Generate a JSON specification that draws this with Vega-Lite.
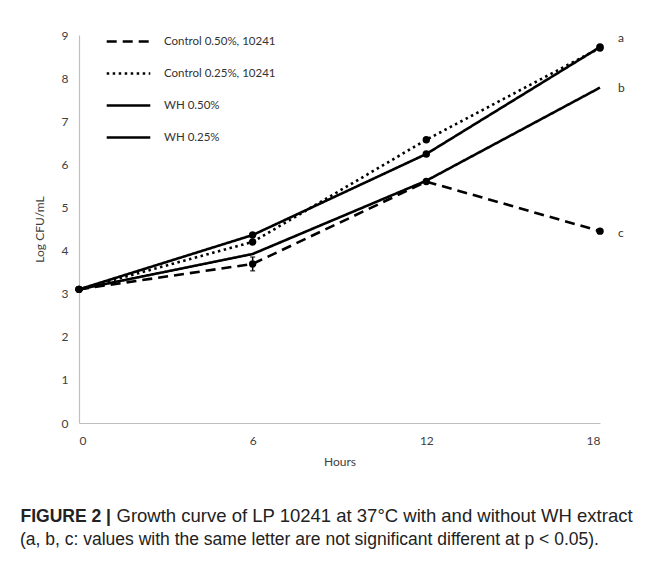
{
  "$schema": "https://vega.github.io/schema/vega-lite/v6.json",
  "width": 521,
  "height": 388,
  "autosize": {"type": "none"},
  "padding": {"left": 79, "top": 35, "right": 57, "bottom": 148},
  "background": "white",
  "config": {"view": {"stroke": null}, "font": "Lato"},
  "datasets": {
    "growth": [
      {"series": "Control 0.50%, 10241", "hour": 0, "logcfu": 3.1},
      {"series": "Control 0.50%, 10241", "hour": 6, "logcfu": 3.69},
      {"series": "Control 0.50%, 10241", "hour": 12, "logcfu": 5.6},
      {"series": "Control 0.50%, 10241", "hour": 18, "logcfu": 4.45},
      {"series": "Control 0.25%, 10241", "hour": 0, "logcfu": 3.1},
      {"series": "Control 0.25%, 10241", "hour": 6, "logcfu": 4.2},
      {"series": "Control 0.25%, 10241", "hour": 12, "logcfu": 6.57},
      {"series": "Control 0.25%, 10241", "hour": 18, "logcfu": 8.7},
      {"series": "WH 0.50%", "hour": 0, "logcfu": 3.1},
      {"series": "WH 0.50%", "hour": 6, "logcfu": 3.92},
      {"series": "WH 0.50%", "hour": 12, "logcfu": 5.62},
      {"series": "WH 0.50%", "hour": 18, "logcfu": 7.78},
      {"series": "WH 0.25%", "hour": 0, "logcfu": 3.1},
      {"series": "WH 0.25%", "hour": 6, "logcfu": 4.36},
      {"series": "WH 0.25%", "hour": 12, "logcfu": 6.24},
      {"series": "WH 0.25%", "hour": 18, "logcfu": 8.72}
    ],
    "errors": [
      {"series": "Control 0.50%, 10241", "hour": 6, "lo": 3.53, "hi": 3.85}
    ],
    "letters": [
      {"hour": 18, "logcfu": 8.93, "letter": "a"},
      {"hour": 18, "logcfu": 7.77, "letter": "b"},
      {"hour": 18, "logcfu": 4.4, "letter": "c"}
    ]
  },
  "title": {
    "text": "(a, b, c: values with the same letter are not significant different at p < 0.05).",
    "orient": "bottom",
    "anchor": "start",
    "frame": "group",
    "dx": -59,
    "offset": 6,
    "font": "Liberation Sans",
    "fontSize": 17.5,
    "fontWeight": "normal",
    "color": "#222",
    "baseline": "top"
  },
  "layer": [
    {
      "layer": [
        {
          "data": {"name": "growth"},
          "mark": {"type": "line", "color": "black", "strokeWidth": 2.6},
          "encoding": {
            "x": {
              "field": "hour", "type": "quantitative",
              "scale": {"domain": [0, 18], "nice": false},
              "axis": {
                "values": [0, 6, 12, 18], "grid": false, "ticks": false,
                "domainColor": "#bfbfbf", "domainWidth": 1.2,
                "labelColor": "#404040", "labelFontSize": 12, "labelPadding": 12,
                "title": "Hours", "titleColor": "#404040", "titleFontSize": 12,
                "titleFontWeight": "normal", "titlePadding": 10
              }
            },
            "y": {
              "field": "logcfu", "type": "quantitative", "title": "Log CFU/mL",
              "scale": {"domain": [0, 9], "nice": false},
              "axis": {
                "values": [0, 1, 2, 3, 4, 5, 6, 7, 8, 9], "grid": false, "ticks": false,
                "domainColor": "#bfbfbf", "domainWidth": 1.2,
                "labelColor": "#404040", "labelFontSize": 12, "labelPadding": 11,
                "title": "Log CFU/mL", "titleColor": "#404040", "titleFontSize": 12,
                "titleFontWeight": "normal", "titlePadding": 15
              }
            },
            "strokeDash": {
              "field": "series", "type": "nominal",
              "scale": {
                "domain": ["Control 0.50%, 10241", "Control 0.25%, 10241", "WH 0.50%", "WH 0.25%"],
                "range": [[10, 6], [2.5, 3.5], [1, 0], [1, 0]]
              },
              "legend": {
                "orient": "none", "legendX": 26, "legendY": -17, "title": null,
                "symbolType": "stroke", "symbolSize": 1900, "symbolStrokeWidth": 2.6,
                "symbolStrokeColor": "black", "labelFontSize": 11.5, "labelColor": "#333",
                "labelOffset": 12, "rowPadding": 3
              }
            }
          }
        },
        {
          "data": {"name": "growth"},
          "transform": [{"filter": "datum.series !== 'WH 0.50%'"}],
          "mark": {"type": "point", "filled": true, "color": "black", "size": 55, "opacity": 1},
          "encoding": {
            "x": {"field": "hour", "type": "quantitative"},
            "y": {"field": "logcfu", "type": "quantitative", "title": "Log CFU/mL"}
          }
        },
        {
          "data": {"name": "errors"},
          "mark": {"type": "errorbar", "ticks": true, "color": "black", "thickness": 1.5},
          "encoding": {
            "x": {"field": "hour", "type": "quantitative"},
            "y": {"field": "lo", "type": "quantitative", "title": "Log CFU/mL"},
            "y2": {"field": "hi"}
          }
        }
      ]
    },
    {
      "data": {"name": "letters"},
      "mark": {"type": "text", "align": "left", "baseline": "middle", "dx": 18, "fontSize": 12, "color": "#333"},
      "encoding": {
        "x": {
          "field": "hour", "type": "quantitative",
          "scale": {"domain": [0, 18], "nice": false},
          "axis": {
            "orient": "top", "domain": false, "ticks": false, "labels": false, "grid": false,
            "title": "FIGURE 2 |", "titleFont": "Liberation Sans", "titleFontSize": 17.5,
            "titleFontWeight": "bold", "titleColor": "#222", "titleX": -59, "titleY": 486,
            "titleAlign": "left", "titleBaseline": "alphabetic", "titleAngle": 0
          }
        },
        "y": {
          "field": "logcfu", "type": "quantitative",
          "scale": {"domain": [0, 9], "nice": false},
          "axis": {
            "orient": "right", "domain": false, "ticks": false, "labels": false, "grid": false,
            "title": "Growth curve of LP 10241 at 37°C with and without WH extract",
            "titleFont": "Liberation Sans", "titleFontSize": 18.5, "titleFontWeight": "normal",
            "titleColor": "#222", "titleX": -484, "titleY": 486,
            "titleAlign": "left", "titleBaseline": "alphabetic", "titleAngle": 0
          }
        },
        "text": {"field": "letter"}
      }
    }
  ],
  "resolve": {"scale": {"x": "independent", "y": "independent"}}
}
